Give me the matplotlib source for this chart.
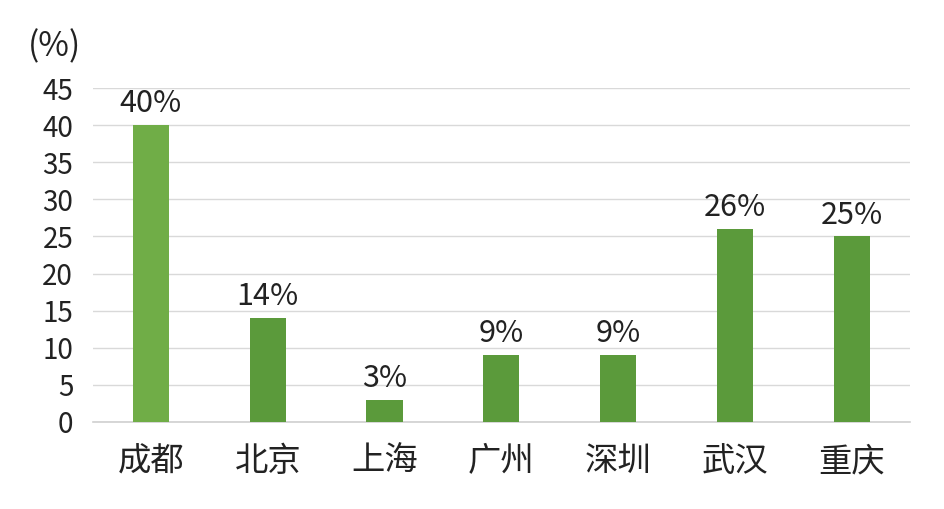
import matplotlib
matplotlib.use("Agg")
import matplotlib.pyplot as plt

categories = ["成都", "北京", "上海", "广州", "深圳", "武汉", "重庆"]
values = [40, 14, 3, 9, 9, 26, 25]
labels = ["40%", "14%", "3%", "9%", "9%", "26%", "25%"]
yticks = [0, 5, 10, 15, 20, 25, 30, 35, 40, 45]

plt.rcParams['font.family'] = ['Noto Sans CJK SC', 'DejaVu Sans']
plt.rcParams['font.weight'] = 'light'

fig = plt.figure(figsize=(9.45, 5.09), dpi=100)
ax = fig.add_axes([0.098, 0.171, 0.865, 0.656])

colors = ["#70AD47"] + ["#5B9A3B"] * (len(values) - 1)
x = range(len(categories))
ax.bar(x, values, width=0.31, color=colors, zorder=3)

for xi, v, lab in zip(x, values, labels):
    ax.text(xi, v + 0.8, lab, ha='center', va='bottom', fontsize=22,
            color='#222222', fontweight='light')

ax.set_xlim(-0.5, len(categories) - 0.5)
ax.set_ylim(0, 45)
ax.set_yticks(yticks)
ax.set_yticklabels([str(t) for t in yticks], fontsize=20, color='#222222',
                   fontweight='light')
ax.set_xticks(list(x))
ax.set_xticklabels(categories, fontsize=24, color='#222222', fontweight='light')
ax.tick_params(axis='both', length=0)
ax.tick_params(axis='y', pad=14)
ax.tick_params(axis='x', pad=16)

ax.yaxis.grid(True, color='#D9D9D9', linewidth=1.0, zorder=0)
for s in ['top', 'right', 'left']:
    ax.spines[s].set_visible(False)
ax.spines['bottom'].set_color('#D0D0D0')
ax.spines['bottom'].set_linewidth(1.2)

fig.text(0.03, 0.908, "(%)", fontsize=24, color='#222222', ha='left',
         va='center', fontweight='light')

fig.savefig("out.png", dpi=100)
